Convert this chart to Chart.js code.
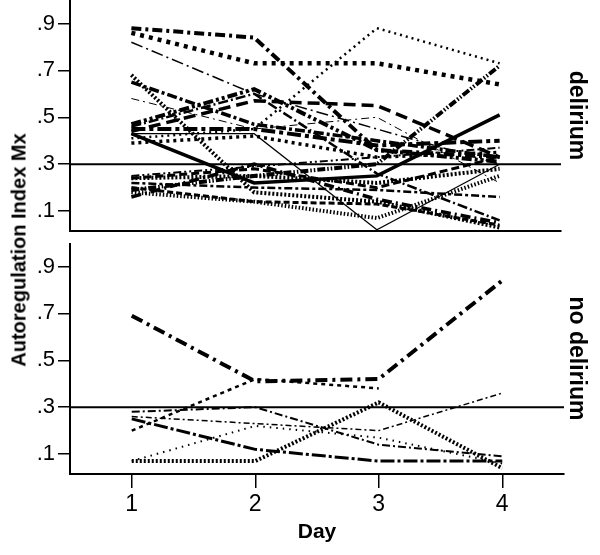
<!DOCTYPE html>
<html>
<head>
<meta charset="utf-8">
<title>Autoregulation Index Mx</title>
<script src="https://cdn.jsdelivr.net/npm/chart.js@4.4.1/dist/chart.umd.min.js"></script>
<style>
    body { margin: 0; background: #fff; }
    #wrap { position: relative; width: 600px; height: 555px; background: #fff; font-family: "Liberation Sans", Arial, sans-serif; }
    canvas { position: absolute; left: 0; }
    #chart-top { top: 0; }
    #chart-bottom { top: 243px; }
    #y-title {
        position: absolute; left: 19px; top: 250px;
        transform: translate(-50%, -50%) rotate(-90deg);
        font-weight: bold; font-size: 20px; white-space: nowrap; color: #000;
    }
</style>
</head>
<body>
<div id="wrap">
    <canvas id="chart-top" width="600" height="236"></canvas>
    <canvas id="chart-bottom" width="600" height="312"></canvas>
    <div id="y-title">Autoregulation Index Mx</div>
</div>
<script>
// Data (one row per patient, days 1-4)
const days = [1, 2, 3, 4];
const yTicks = [0.1, 0.3, 0.5, 0.7, 0.9];
const cutoff = 0.3;

const deliriumMx = [
    [0.88, 0.84, 0.36, 0.33],
    [0.86, 0.73, 0.73, 0.64],
    [0.82, 0.60, 0.45, 0.30],
    [0.41, 0.45, 0.88, 0.73],
    [0.68, 0.18, 0.14, 0.03],
    [0.65, 0.47, 0.40, 0.33],
    [0.58, 0.45, 0.50, 0.22],
    [0.47, 0.62, 0.36, 0.31],
    [0.44, 0.57, 0.55, 0.33],
    [0.43, 0.43, 0.02, 0.30],
    [0.43, 0.22, 0.25, 0.51],
    [0.45, 0.45, 0.38, 0.40],
    [0.25, 0.29, 0.33, 0.37],
    [0.24, 0.25, 0.22, 0.28],
    [0.22, 0.20, 0.19, 0.16],
    [0.20, 0.14, 0.13, 0.04],
    [0.18, 0.14, 0.07, 0.25],
    [0.16, 0.30, 0.15, 0.05],
    [0.19, 0.25, 0.30, 0.72],
    [0.46, 0.60, 0.26, 0.06],
    [0.24, 0.28, 0.20, 0.33],
    [0.39, 0.42, 0.33, 0.35]
];

const noDeliriumMx = [
    [0.69, 0.41, 0.42, 0.84],
    [0.20, 0.42, 0.38, null],
    [0.28, 0.30, 0.14, 0.09],
    [0.26, 0.23, 0.20, 0.36],
    [0.25, 0.12, 0.07, 0.07],
    [0.07, 0.22, 0.17, 0.06],
    [0.07, 0.07, 0.32, 0.04]
];

// line looks: [width, dash]
const deliriumStyles = [
    [4, [10, 4, 3, 4]],
    [4.5, [4, 5]],
    [1.5, [12, 4, 2, 4]],
    [2.5, [2, 4]],
    [4, [2, 2]],
    [3.5, [10, 3, 3, 3]],
    [1, [8, 4, 2, 4]],
    [4, [10, 3, 3, 3, 3, 3]],
    [3.5, [12, 6]],
    [1.2, []],
    [3.5, []],
    [4, [14, 4, 4, 4]],
    [2, [8, 3, 2, 3, 2, 3]],
    [4, [2, 2]],
    [2.5, [8, 3, 3, 3]],
    [3, [6, 3]],
    [4, [1.5, 2]],
    [3.5, [10, 4, 2, 4]],
    [4, [8, 2, 1.5, 2, 1.5, 2]],
    [2.5, [10, 3, 2, 3]],
    [3, [8, 4]],
    [3.5, [3, 4]]
];

const noDeliriumStyles = [
    [4, [12, 5, 3, 5]],
    [2.5, [4, 4]],
    [2, [8, 3, 2, 3]],
    [1.5, [6, 3, 2, 3]],
    [3, [14, 3, 3, 3]],
    [2, [1.5, 5]],
    [4, [2, 2]]
];

const FONT = '"Liberation Sans", Arial, sans-serif';

function buildDatasets(series, styles) {
    const sets = series.map((row, i) => ({
        data: row.map((v, j) => ({ x: days[j], y: v })),
        borderColor: '#000',
        borderWidth: styles[i][0],
        borderDash: styles[i][1],
        borderCapStyle: 'butt',
        pointRadius: 0,
        spanGaps: false,
        tension: 0
    }));
    // cut-off line at .3
    sets.push({
        data: [{ x: 0.5, y: cutoff }, { x: 4.5, y: cutoff }],
        borderColor: '#000',
        borderWidth: 2,
        pointRadius: 0
    });
    return sets;
}

function makePanel(canvasId, series, styles, cfg) {
    const ctx = document.getElementById(canvasId);
    return new Chart(ctx, {
        type: 'line',
        data: { datasets: buildDatasets(series, styles) },
        options: {
            responsive: false,
            animation: false,
            devicePixelRatio: 1,
            layout: { padding: 0 },
            plugins: { legend: { display: false }, tooltip: { enabled: false } },
            scales: {
                x: {
                    type: 'linear',
                    min: 0.5,
                    max: 4.5,
                    afterBuildTicks: s => { s.ticks = days.map(v => ({ value: v })); },
                    afterFit: s => { s.height = cfg.xHeight; s.paddingLeft = 0; s.paddingRight = 0; },
                    grid: { drawOnChartArea: false, drawTicks: cfg.showX, tickLength: 14, tickColor: '#000', lineWidth: 1.5 },
                    border: { display: true, color: '#000', width: 2 },
                    ticks: {
                        display: cfg.showX,
                        color: '#000',
                        padding: 3,
                        font: { family: FONT, size: 23 },
                        callback: v => String(v)
                    },
                    title: {
                        display: cfg.showX,
                        text: 'Day',
                        color: '#000',
                        padding: { top: 0, bottom: 10 },
                        font: { family: FONT, size: 21, weight: 'bold' }
                    }
                },
                y: {
                    min: 0.015,
                    max: 1.0,
                    afterBuildTicks: s => { s.ticks = yTicks.map(v => ({ value: v })); },
                    afterFit: s => { s.width = 70; s.paddingTop = 0; s.paddingBottom = 0; },
                    grid: { drawOnChartArea: false, tickLength: 12, tickColor: '#000', lineWidth: 1.5 },
                    border: { display: true, color: '#000', width: 2 },
                    ticks: {
                        color: '#000',
                        padding: 3,
                        font: { family: FONT, size: 22 },
                        callback: v => String(v).replace(/^0/, '')
                    }
                },
                side: {
                    axis: 'y',
                    position: 'right',
                    min: 0,
                    max: 1,
                    afterFit: s => { s.width = cfg.rightWidth; s.paddingTop = 0; s.paddingBottom = 0; },
                    grid: { display: false },
                    border: { display: false },
                    ticks: { display: false },
                    title: {
                        display: true,
                        text: cfg.label,
                        color: '#000',
                        padding: { top: 10, bottom: 0 },
                        font: { family: FONT, size: 23, weight: 'bold' }
                    }
                }
            }
        }
    });
}

makePanel('chart-top', deliriumMx, deliriumStyles, { showX: false, xHeight: 5, rightWidth: 39, label: 'delirium' });
makePanel('chart-bottom', noDeliriumMx, noDeliriumStyles, { showX: true, xHeight: 81, rightWidth: 36, label: 'no delirium' });
</script>
</body>
</html>
